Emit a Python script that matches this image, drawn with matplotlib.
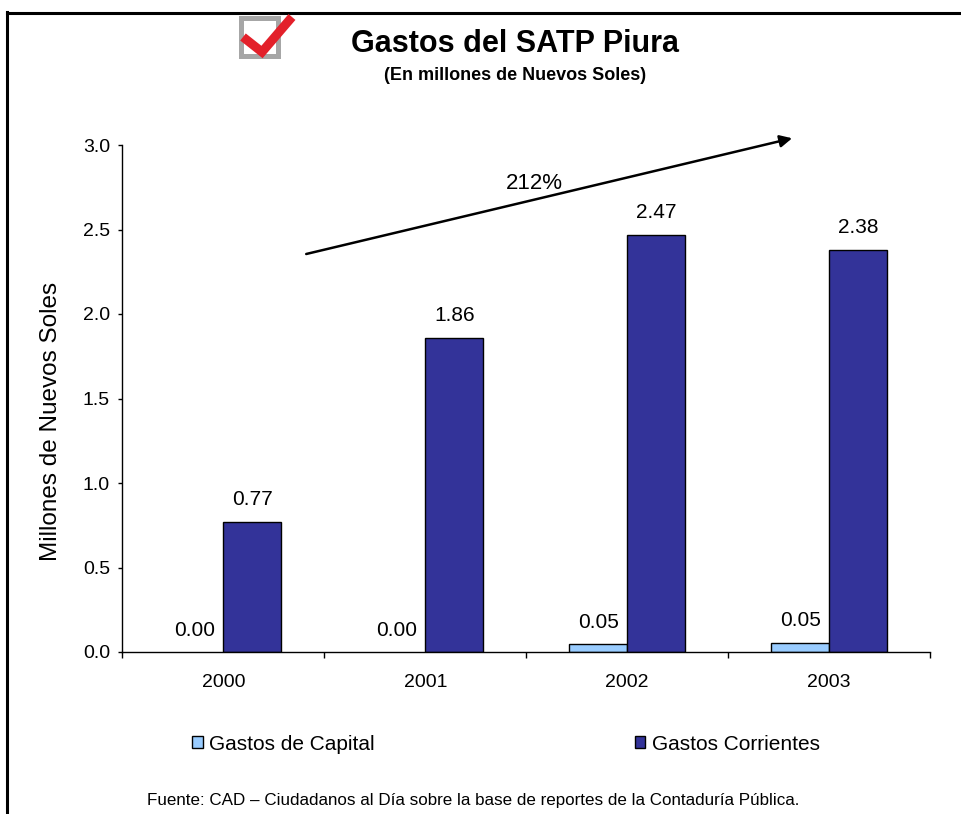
import matplotlib
matplotlib.use("Agg")
import matplotlib.pyplot as plt
import numpy as np
from matplotlib.lines import Line2D
from matplotlib.patches import Rectangle

plt.rcParams['font.family'] = ['Liberation Sans', 'DejaVu Sans']

# ---- data ----
years = ["2000", "2001", "2002", "2003"]
gastos_capital = [0.0, 0.0, 0.046, 0.054]
gastos_corrientes = [0.77, 1.86, 2.47, 2.38]
series_names = ["Gastos de Capital", "Gastos Corrientes"]
yticks = [0.0, 0.5, 1.0, 1.5, 2.0, 2.5, 3.0]
growth_label = "212%"

title = "Gastos del SATP Piura"
subtitle = "(En millones de Nuevos Soles)"
ylabel = "Millones de Nuevos Soles"
footer = "Fuente: CAD \u2013 Ciudadanos al D\u00eda sobre la base de reportes de la Contadur\u00eda P\u00fablica."

W, H = 962, 814
fig = plt.figure(figsize=(W / 100, H / 100), dpi=100)
fig.patch.set_facecolor("white")

def fx(px):
    return px / W

def fy(py):
    return 1 - py / H

ax = fig.add_axes([fx(122.5), fy(652), fx(930) - fx(122.5), fy(145) - fy(652)])

x = np.arange(len(years))
bw = 0.287
b1 = ax.bar(x - bw / 2, gastos_capital, bw, color="#99CCFF", edgecolor="black",
            linewidth=1.0, label=series_names[0], zorder=3)
b2 = ax.bar(x + bw / 2, gastos_corrientes, bw, color="#333399", edgecolor="black",
            linewidth=1.0, label=series_names[1], zorder=3)
ax.bar_label(b1, fmt="%.2f", padding=9, fontsize=15)
ax.bar_label(b2, fmt="%.2f", padding=9, fontsize=15)

# legend (built before hiding zero-height bar edges)
fig.legend(handles=[b1, b2], labels=series_names, loc="center",
           bbox_to_anchor=(fx(506), fy(744)), ncol=2, frameon=False, fontsize=15,
           handlelength=0.5, handleheight=0.5, handletextpad=0.3, columnspacing=12.5)

for p, v in zip(b1.patches, gastos_capital):
    if v == 0:
        p.set_linewidth(0)

ax.set_xlim(-0.5, len(years) - 0.5)
ax.set_ylim(0, 3.0)
ax.set_yticks(yticks)
ax.set_yticklabels([f"{v:.1f}" for v in yticks], fontsize=14)
ax.tick_params(axis="y", direction="out", length=3, width=1, pad=6)

ax.set_xticks(np.arange(-0.5, len(years)), minor=False)
ax.set_xticklabels([])
ax.set_xticks(x, minor=True)
ax.set_xticklabels(years, minor=True, fontsize=14)
ax.tick_params(axis="x", which="major", direction="out", length=4.5, width=1)
ax.tick_params(axis="x", which="minor", length=0, pad=16)

for s in ["top", "right"]:
    ax.spines[s].set_visible(False)
for s in ["left", "bottom"]:
    ax.spines[s].set_linewidth(1.0)
    ax.spines[s].set_color("black")
ax.spines["bottom"].set_zorder(4)

ax.set_ylabel(ylabel, fontsize=17.5)
ax.yaxis.set_label_coords((62 - 122.5) / 807.5, (652 - 421) / 507)

# growth arrow
ax.annotate("", xy=(2.817, 3.04), xytext=(0.41, 2.355), xycoords="data",
            textcoords="data", annotation_clip=False,
            arrowprops=dict(arrowstyle="-|>", color="black", lw=1.8,
                            mutation_scale=18, shrinkA=0, shrinkB=0))
ax.text(1.54, 2.77, growth_label, fontsize=16, ha="center", va="center")

# titles
fig.text(fx(515), fy(44), title, fontsize=22, fontweight="bold", ha="center", va="center")
fig.text(fx(515), fy(75), subtitle, fontsize=13, fontweight="bold", ha="center", va="center")

# footer
fig.text(fx(473), fy(800), footer, fontsize=12.25, ha="center", va="center")

# frame lines
fig.add_artist(Line2D([fx(7.5), 1.0], [fy(13), fy(13)], color="black", lw=2.2))
fig.add_artist(Line2D([fx(7.5), fx(7.5)], [fy(12), 0.0], color="black", lw=2.2))

# checkmark icon
fig.add_artist(Rectangle((fx(241), fy(56)), fx(278) - fx(241), fy(18) - fy(56),
                         fill=False, edgecolor="#A6A6A6", lw=3.6))
fig.add_artist(Line2D([fx(243), fx(262), fx(292)], [fy(37), fy(52), fy(17)],
                      color="#E3202A", lw=6.5, solid_joinstyle="miter",
                      solid_capstyle="butt"))

fig.savefig("out.png", dpi=100)
